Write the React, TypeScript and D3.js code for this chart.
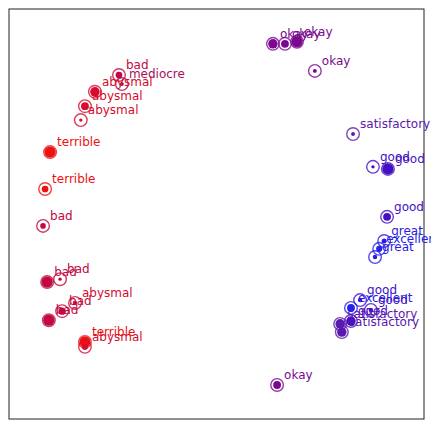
import React from "react";
import * as d3 from "d3";

const labels = [
  "bad", "mediocre", "abysmal", "abysmal", "abysmal",
  "terrible", "terrible", "bad",
  "bad", "bad", "bad", "bad", "abysmal", "terrible", "abysmal",
  "okay", "okay", "okay", "okay",
  "satisfactory", "good", "good", "good", "great", "excellent", "great",
  "good", "excellent", "good", "good", "satisfactory", "satisfactory",
  "okay",
];
const xValues = [
  26.5, 27.2, 20.7, 18.3, 17.3,
  9.9, 8.7, 8.2,
  9.2, 12.3, 9.6, 12.8, 15.9, 18.3, 18.3,
  63.6, 66.5, 69.4, 73.7,
  82.9, 87.7, 91.3, 91.1, 90.4, 89.2, 88.2,
  84.6, 82.4, 87.2, 82.4, 79.8, 80.2,
  64.6,
];
const yValues = [
  83.9, 81.7, 79.8, 76.3, 72.9,
  65.1, 56.1, 47.1,
  33.4, 34.1, 24.1, 26.3, 28.3, 18.8, 17.6,
  91.5, 91.5, 92.0, 84.9,
  69.5, 61.5, 61.0, 49.3, 43.4, 41.5, 39.5,
  29.0, 27.1, 26.6, 23.9, 23.2, 21.2,
  8.3,
];
// inner dot strength (0..1)
const strength = [
  0.6, 0.35, 0.85, 0.7, 0.3,
  1.0, 0.6, 0.5,
  1.0, 0.3, 1.0, 0.65, 0.4, 1.0, 0.55,
  0.85, 0.7, 1.0, 0.35,
  0.35, 0.3, 1.0, 0.7, 0.45, 0.55, 0.4,
  0.4, 0.7, 0.4, 0.85, 0.85, 0.85,
  0.7,
];
const sentimentWords = ["terrible", "abysmal", "bad", "mediocre", "okay", "satisfactory", "good", "great", "excellent"];
const sentimentColors = ["#ee1111", "#d40c2e", "#c2083e", "#a8105e", "#7a0890", "#5c18ae", "#4510c4", "#2c1cdf", "#2222ee"];

const W = 431;
const H = 429;
const left = 9, top = 9, right = 424, bottom = 419;

export default function App() {
  const x = d3.scaleLinear().domain([0, 100]).range([left, right]);
  const y = d3.scaleLinear().domain([0, 100]).range([bottom, top]);
  const color = d3.scaleOrdinal<string, string>().domain(sentimentWords).range(sentimentColors);
  const rInner = d3.scaleLinear().domain([0, 1]).range([0, 5.6]);
  const idx = d3.range(labels.length);
  return (
    <svg width={W} height={H} style={{ position: "absolute", left: 0, top: 0 }}>
      <rect x={0} y={0} width={W} height={H} fill="#fff" />
      <rect x={left} y={top} width={right - left} height={bottom - top} fill="none" stroke="#222" strokeWidth={1} />
      {idx.map((i) => (
        <g key={"p" + i}>
          <circle cx={x(xValues[i])} cy={y(yValues[i])} r={6.3} fill="none" stroke={color(labels[i])} strokeWidth={1.4} strokeOpacity={0.8} />
          <circle cx={x(xValues[i])} cy={y(yValues[i])} r={Math.max(1.2, rInner(strength[i]))} fill={color(labels[i])} />
        </g>
      ))}
      {idx.map((i) => (
        <text key={"t" + i} x={x(xValues[i]) + 7} y={y(yValues[i]) - 6} fill={color(labels[i])} fontFamily="DejaVu Sans" fontSize={12}>
          {labels[i]}
        </text>
      ))}
    </svg>
  );
}
